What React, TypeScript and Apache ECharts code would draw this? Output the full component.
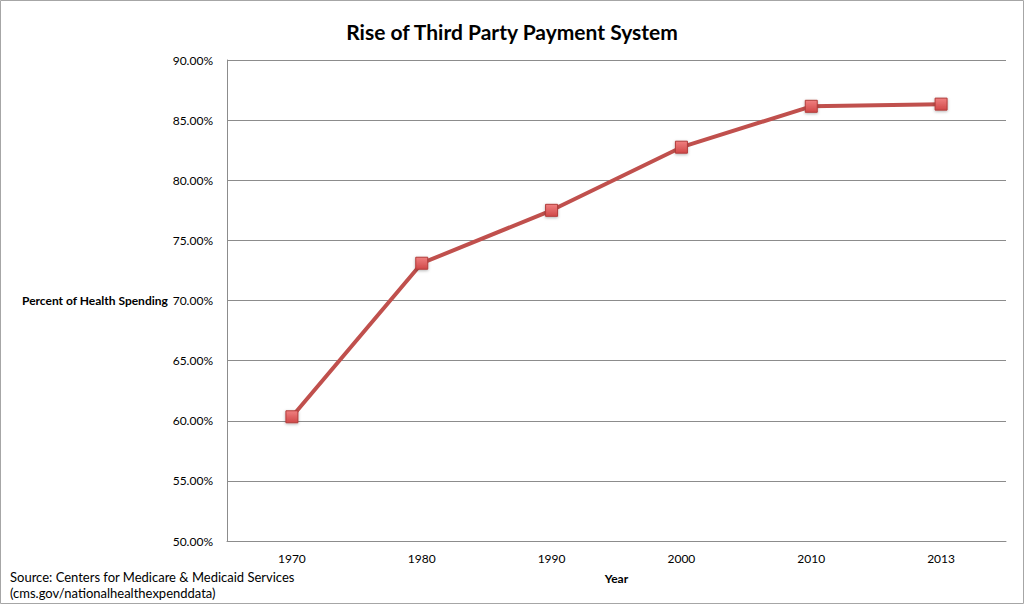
import React, { useEffect, useRef } from "react";
import * as echarts from "echarts";

const years = ["1970", "1980", "1990", "2000", "2010", "2013"];
const thirdPartyShare = [60.33, 73.1, 77.5, 82.75, 86.15, 86.33];
const chartTitle = "Rise of Third Party Payment System";
const yAxisTitle = "Percent of Health Spending";
const xAxisTitle = "Year";
const sourceLines = ["Source: Centers for Medicare & Medicaid Services", "(cms.gov/nationalhealthexpenddata)"];

const FONT = "Lato, 'Open Sans', sans-serif";

export default function App() {
  const ref = useRef<HTMLDivElement>(null);
  useEffect(() => {
    if (!ref.current) return;
    const chart = echarts.init(ref.current, undefined, { renderer: "svg" });
    chart.setOption({
      animation: false,
      backgroundColor: "#ffffff",
      textStyle: { fontFamily: FONT },
      title: {
        text: chartTitle,
        left: "center",
        top: 16,
        textStyle: { fontFamily: FONT, fontSize: 21, fontWeight: "bold", color: "#000" },
      },
      grid: { left: 227, right: 18, top: 60, bottom: 63, containLabel: false },
      xAxis: {
        type: "category",
        data: years,
        boundaryGap: true,
        name: xAxisTitle,
        nameLocation: "middle",
        nameGap: 31,
        nameTextStyle: { fontFamily: FONT, fontSize: 12, fontWeight: "bold", color: "#000" },
        axisLine: { lineStyle: { color: "#8c8c8c", width: 1 } },
        axisTick: { show: false },
        axisLabel: { fontFamily: FONT, fontSize: 12, color: "#000", margin: 11 },
        splitLine: { show: false },
      },
      yAxis: {
        type: "value",
        min: 50,
        max: 90,
        interval: 5,
        axisLine: { show: true, lineStyle: { color: "#8c8c8c", width: 1 } },
        axisTick: { show: false },
        axisLabel: {
          fontFamily: FONT,
          fontSize: 12,
          color: "#000",
          margin: 14,
          formatter: (v: number) => v.toFixed(2) + "%",
        },
        splitLine: { show: true, lineStyle: { color: "#8c8c8c", width: 1 } },
      },
      graphic: [
        {
          type: "rect",
          shape: { x: 0.5, y: 0.5, width: 1023, height: 603 },
          style: { fill: "none", stroke: "#a6a6a6", lineWidth: 1 },
          silent: true,
        },
        {
          type: "text",
          x: 22,
          y: 300,
          style: {
            text: yAxisTitle,
            fontFamily: FONT,
            fontSize: 12,
            fontWeight: "bold",
            fill: "#000",
            verticalAlign: "middle",
            align: "left",
          },
        },
        {
          type: "text",
          x: 10,
          y: 577,
          style: { text: sourceLines[0], fontFamily: FONT, fontSize: 13, fill: "#000", verticalAlign: "middle" },
        },
        {
          type: "text",
          x: 10,
          y: 593,
          style: { text: sourceLines[1], fontFamily: FONT, fontSize: 13, fill: "#000", verticalAlign: "middle" },
        },
      ],
      series: [
        {
          type: "line",
          data: thirdPartyShare,
          symbol: "rect",
          symbolSize: 12,
          lineStyle: { color: "#c0504d", width: 4 },
          itemStyle: {
            color: {
              type: "linear",
              x: 0, y: 0, x2: 0, y2: 1,
              colorStops: [
                { offset: 0, color: "#f08080" },
                { offset: 1, color: "#d04848" },
              ],
            },
            borderColor: "#b03c3a",
            borderWidth: 1,
            shadowColor: "rgba(0,0,0,0.3)",
            shadowBlur: 3,
            shadowOffsetY: 1,
          },
        },
      ],
    });
    return () => chart.dispose();
  }, []);
  return (
    <div
      ref={ref}
      style={{ position: "fixed", left: 0, top: 0, width: 1024, height: 604 }}
    />
  );
}
